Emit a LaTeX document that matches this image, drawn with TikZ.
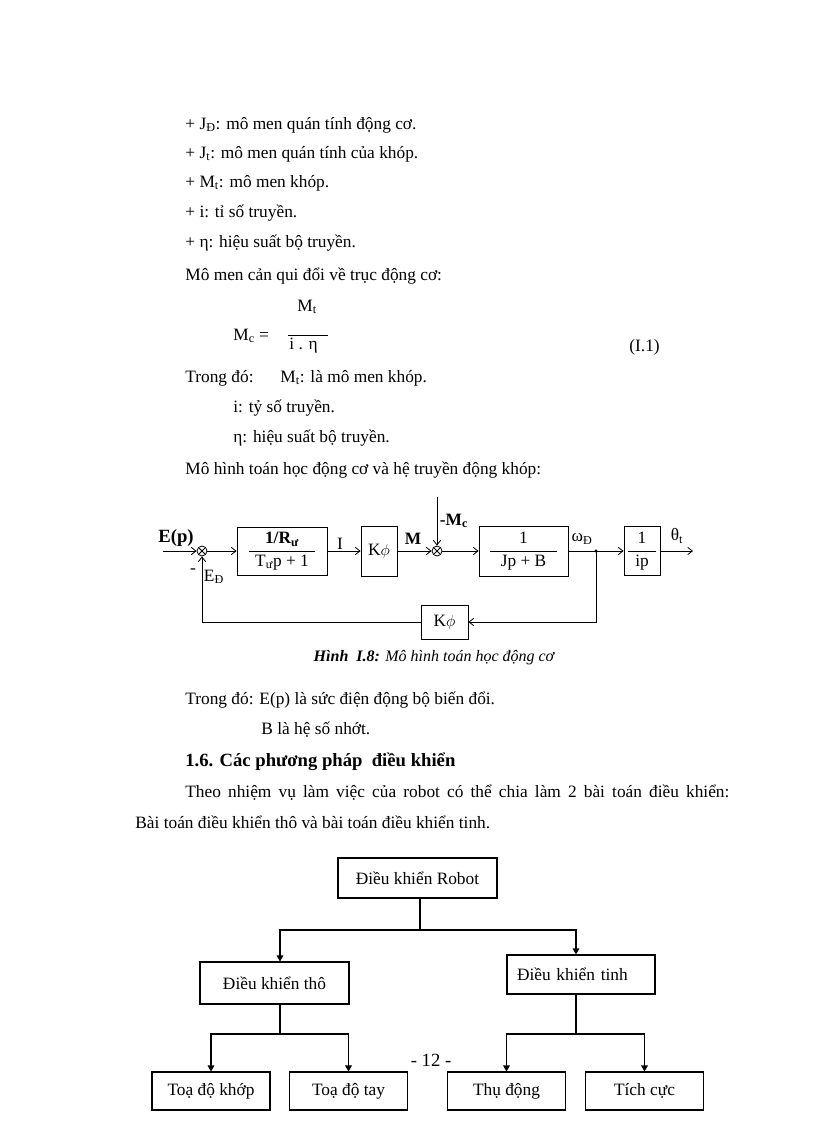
\documentclass[tikz,border=0pt]{standalone}
\usepackage{fontspec}
\setmainfont{Liberation Serif}
\usetikzlibrary{arrows,arrows.meta,calc}

\newcommand{\blkfrac}[3]{\begin{tabular}{@{}c@{}}#1\\[-9pt]\rule{#3}{0.5pt}\\[-4pt]#2\end{tabular}}

\begin{document}
\begin{tikzpicture}[x=0.75pt,y=-0.75pt,line width=0.6pt,
  >={Straight Barb[length=3.5pt,width=5.5pt]},
  txt/.style={anchor=west,inner sep=0pt,font=\fontsize{13}{15}\selectfont},
  lbl/.style={inner sep=0pt,font=\fontsize{13}{15}\selectfont},
  blk/.style={draw,inner sep=0pt,font=\fontsize{13}{15}\selectfont},
  sumpt/.style={draw,circle,inner sep=0pt,minimum size=7.5pt,
    path picture={\draw (path picture bounding box.north west)--(path picture bounding box.south east)
      (path picture bounding box.south west)--(path picture bounding box.north east);}},
  treebox/.style={draw,line width=0.8pt,inner sep=0pt,font=\fontsize{13}{15}\selectfont},
  treearr/.style={line width=0.8pt,-{Triangle[length=4.5pt,width=5pt]}}]

\useasboundingbox (0,0) rectangle (816,1123);

% text before the figure
\node[txt] (t1) at (185,125) {+ J\textsubscript{Đ}: mô men quán tính động cơ.};
\node[txt] (t2) at (185,154) {+ J\textsubscript{t}: mô men quán tính của khóp.};
\node[txt] (t3) at (185,183) {+ M\textsubscript{t}: mô men khóp.};
\node[txt] (t4) at (185,213) {+ i: tỉ số truyền.};
\node[txt] (t5) at (185,243) {+ η: hiệu suất bộ truyền.};
\node[txt] (t6) at (185,276) {Mô men cản qui đổi về trục động cơ:};
\node[txt] (eqn) at (297,307) {M\textsubscript{t}};
\node[txt] (eqMc) at (233,336) {M\textsubscript{c} =};
\draw (288,335) -- (328,335);
\node[txt] (eqd) at (289,346) {i . η};
\node[txt] (eqno) at (629,347) {(I.1)};
\node[txt] (t7) at (185,378) {Trong đó:};
\node[txt] (t8) at (280,378) {M\textsubscript{t}: là mô men khóp.};
\node[txt] (t9) at (233,408) {i: tỷ số truyền.};
\node[txt] (t10) at (233,438) {η: hiệu suất bộ truyền.};
\node[txt] (t11) at (185,470) {Mô hình toán học động cơ và hệ truyền động khóp:};

% block diagram
\coordinate (Ein) at (163,551);
\node[sumpt] (S1) at (202,551) {};
\node[blk,minimum width=67.5pt,minimum height=36pt] (G1) at (282,551)
  {\blkfrac{\textbf{1/R\textsubscript{ư}}}{T\textsubscript{ư}p + 1}{50pt}};
\node[blk,minimum width=27pt,minimum height=37.5pt] (K1) at (379,551) {K$\phi$};
\node[sumpt] (S2) at (437,551) {};
\coordinate (Mc) at (437,497);
\node[blk,minimum width=66.75pt,minimum height=37.5pt] (G2) at (523.5,551)
  {\blkfrac{1}{Jp + B}{50pt}};
\coordinate (br) at (596,551);
\node[blk,minimum width=27pt,minimum height=36.75pt] (G3) at (642,551)
  {\blkfrac{1}{ip}{21pt}};
\coordinate (Eout) at (693,551);
\node[blk,minimum width=35.25pt,minimum height=25.5pt] (K2) at (444.5,622) {K$\phi$};

\draw[->] (Ein) -- (S1);
\draw[->] (S1) -- (G1);
\draw[->] (G1) -- (K1);
\draw[->] (K1) -- (S2);
\draw[->] (Mc) -- (S2);
\draw[->] (S2) -- (G2);
\draw[->] (G2) -- (G3);
\draw[->] (G3) -- (Eout);
\fill (br) circle (1.6);
\draw[->] (br) |- (K2);
\draw[->] (K2) -| (S1);

\node[lbl,font=\bfseries\fontsize{14}{16}\selectfont] (lE) at (176,538) {E(p)};
\node[lbl] (lmin) at (193,571) {-};
\node[lbl] (lEd) at (214,577) {E\textsubscript{Đ}};
\node[lbl] (lI) at (340,544) {I};
\node[lbl,font=\bfseries\fontsize{13}{15}\selectfont] (lM) at (413,539) {M};
\node[lbl,font=\bfseries\fontsize{13}{15}\selectfont] (lMc) at (454,521) {-M\textsubscript{c}};
\node[lbl] (lw) at (582,539) {ω\textsubscript{Đ}};
\node[lbl] (lth) at (677,536) {θ\textsubscript{t}};

\node[lbl,font=\itshape\fontsize{12}{14}\selectfont] (cap) at (434,658)
  {\textbf{Hình~ I.8:} Mô hình toán học động cơ};

% text after the figure
\node[txt] (t12) at (185,700) {Trong đó: E(p) là sức điện động bộ biến đổi.};
\node[txt] (t13) at (261,730) {B là hệ số nhớt.};
\node[txt,font=\bfseries\fontsize{14}{16}\selectfont] (sec) at (185,762) {1.6. Các phương pháp~ điều khiển};
\node[txt] (t14) at (185,793) {\makebox[408pt][s]{Theo nhiệm vụ làm việc của robot có thể chia làm 2 bài toán điều khiển:}};
\node[txt] (t15) at (135,822) {Bài toán điều khiển thô và bài toán điều khiển tinh.};

% tree
\node[treebox,minimum width=119.25pt,minimum height=30pt] (root) at (417.5,878) {Điều khiển Robot};
\node[treebox,minimum width=111.75pt,minimum height=31.5pt] (L1) at (274.5,983) {Điều khiển thô};
\node[treebox,text width=96pt,align=left,inner xsep=7.5pt,minimum height=29.25pt] (R1) at (581,974.5) {Điều khiển tinh};
\node[treebox,minimum width=88.5pt,minimum height=28.5pt] (B1) at (211,1091) {Toạ độ khớp};
\node[treebox,minimum width=88.5pt,minimum height=28.5pt] (B2) at (348.5,1091) {Toạ độ tay};
\node[treebox,minimum width=88.5pt,minimum height=28.5pt] (B3) at (506.5,1091) {Thụ động};
\node[treebox,minimum width=88.5pt,minimum height=28.5pt] (B4) at (644.5,1091) {Tích cực};

\coordinate (f1) at (420,930);
\coordinate (f2) at (280,1034);
\coordinate (f3) at (576,1034);
\draw[line width=0.8pt] (root.south -| f1) -- (f1);
\draw[treearr] (f1) -| (L1.north -| f2);
\draw[treearr] (f1) -| (R1.north -| f3);
\draw[line width=0.8pt] (L1.south -| f2) -- (f2);
\draw[treearr] (f2) -| (B1);
\draw[treearr] (f2) -| (B2);
\draw[line width=0.8pt] (R1.south -| f3) -- (f3);
\draw[treearr] (f3) -| (B3);
\draw[treearr] (f3) -| (B4);

\node[lbl,font=\fontsize{14}{16}\selectfont] (pg) at (431,1060) {- 12 -};

\end{tikzpicture}
\end{document}
